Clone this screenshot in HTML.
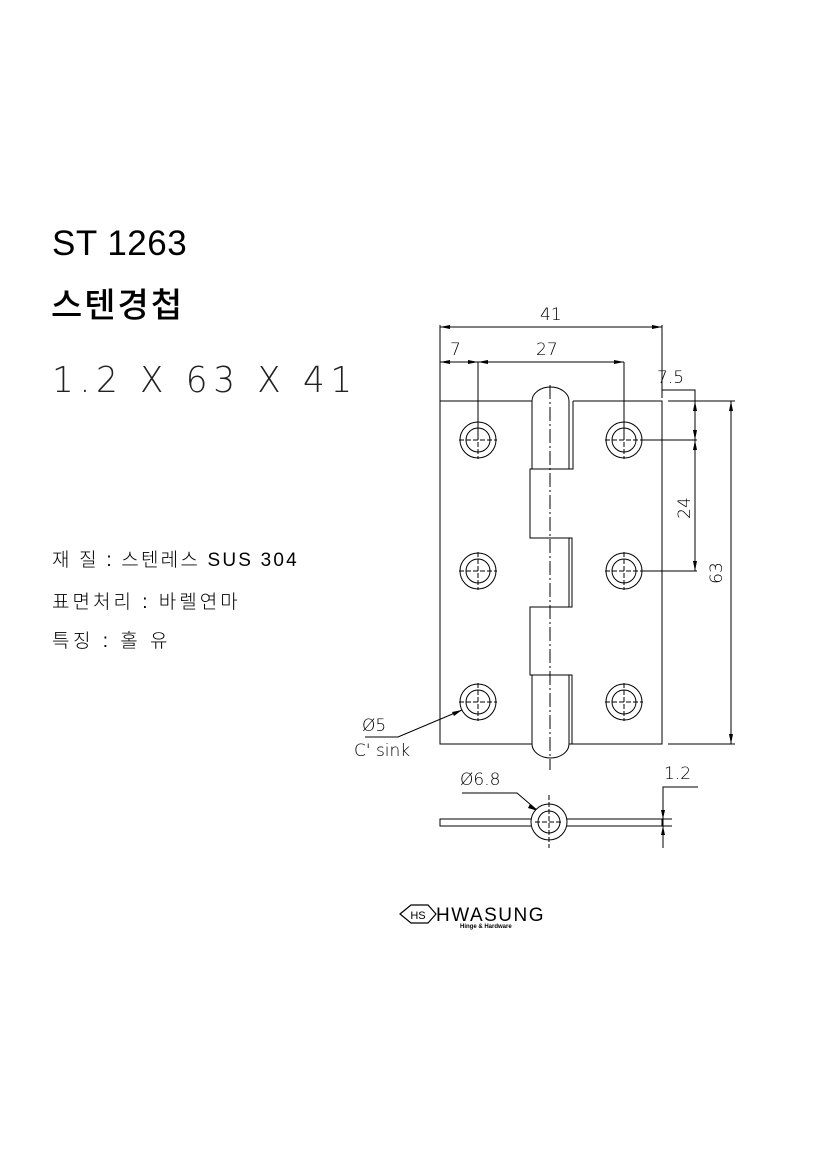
<!DOCTYPE html>
<html><head><meta charset="utf-8"><style>
body{margin:0;background:#fff;width:827px;height:1169px;overflow:hidden;position:relative;font-family:"Liberation Sans","Noto Sans CJK KR",sans-serif}
.t{position:absolute;color:#000;white-space:nowrap}
</style></head><body>
<div class="t" style="left:52px;top:224px;font-size:35px;letter-spacing:0.5px">ST 1263</div>
<div class="t" style="left:51px;top:278px;font-size:34px;font-weight:500;letter-spacing:2px">스텐경첩</div>
<div class="t" style="left:52px;top:360px;font-size:36px;font-weight:100;letter-spacing:6px;color:#222;font-family:'DejaVu Sans',sans-serif;transform:scaleX(0.95);transform-origin:left">1.2 X 63 X 41</div>
<div class="t" style="left:52px;top:545px;font-size:19px;letter-spacing:2.2px;font-weight:300">재 질 : 스텐레스 SUS 304</div>
<div class="t" style="left:52px;top:587px;font-size:19px;letter-spacing:3px;font-weight:300">표면처리 : 바렐연마</div>
<div class="t" style="left:52px;top:626px;font-size:19px;letter-spacing:3.5px;font-weight:300">특징 : 홀 유</div>
<svg width="827" height="1169" style="position:absolute;left:0;top:0" fill="none" stroke="#000" stroke-width="1">
<g font-family="DejaVu Sans,sans-serif" font-size="17" fill="#000" stroke="none" font-weight="300">
<text x="540" y="320">41</text><text x="450" y="355">7</text><text x="536" y="355">27</text>
<text x="657" y="383">7.5</text>
<text x="690" y="508" transform="rotate(-90 690 508)" text-anchor="middle">24</text>
<text x="722" y="573" transform="rotate(-90 722 573)" text-anchor="middle">63</text>
<text x="362" y="731">Ø5</text><text x="354" y="756">C' sink</text>
<text x="460" y="785">Ø6.8</text><text x="664" y="779">1.2</text>
</g>
<path d="M532 401H440V744H532M569 744H572M573 401H662V744H572"/>
<path d="M573 401V469H530V538H572V607H530V675H572V744"/>
<path d="M532 469V401 A18.5 14 0 0 1 569 401V469M532 675V744A18.5 14 0 0 0 569 744V675M569 538V607"/>
<path d="M550 385V770" stroke-dasharray="14 3 2 3"/>
<g>
<circle cx="478" cy="440" r="18"/><circle cx="478" cy="440" r="12"/>
<circle cx="624" cy="440" r="18"/><circle cx="624" cy="440" r="12"/>
<circle cx="478" cy="571" r="18"/><circle cx="478" cy="571" r="12"/>
<circle cx="624" cy="571" r="18"/><circle cx="624" cy="571" r="12"/>
<circle cx="478" cy="702" r="18"/><circle cx="478" cy="702" r="12"/>
<circle cx="624" cy="702" r="18"/><circle cx="624" cy="702" r="12"/>
<path d="M459 440h38M478 421v38M605 440h38M624 421v38M459 571h38M478 552v38M605 571h38M624 552v38M459 702h38M478 683v38M605 702h38M624 683v38" stroke-dasharray="5 2"/>
</g>
<path d="M440 325V401M662 325V398M440 327H662M440 362H624M478 362V440M624 362V440"/>
<path d="M662 390H695V571M643 440H697M643 571H697M668 401H735M668 744H735M731 401V744"/>
<g fill="#000" stroke="none">
<path d="M440 327l10-2v4zM662 327l-10-2v4zM440 362l10-2v4zM478 362l-10-2v4zM478 362l10-2v4zM624 362l-10-2v4z"/>
<path d="M695 401l-2 10h4zM695 440l-2-10h4zM695 440l-2 10h4zM695 571l-2-10h4zM731 401l-2 10h4zM731 744l-2-10h4z"/>
<path d="M462 710l-10 2 2 4z"/><path d="M538 811l-8-7-2 4z"/>
<path d="M663 819l-2-9h4zM663 826l-2 9h4z"/>
</g>
<path d="M365 737H398L462 710M462 793H517L538 811"/>
<rect x="440" y="819" width="222" height="7"/>
<circle cx="549" cy="822" r="18" fill="#fff"/><circle cx="549" cy="822" r="11"/>
<path d="M549 795V848M535 822H563" stroke-dasharray="5 2"/>
<path d="M663 848V787H698M658 819h14M658 826h14"/>
<path d="M400 914L411 905H428L436 914L428 923H411Z" stroke-width="1.2"/>
<text x="418" y="919" font-size="11" text-anchor="middle" fill="#000" stroke="none" font-family="Liberation Sans">HS</text>
<text x="436" y="921" font-size="19" fill="#000" stroke="none" font-family="Liberation Sans" letter-spacing="1.5">HWASUNG</text>
<text x="460" y="928" font-size="6" fill="#000" stroke="none" font-family="Liberation Sans" font-weight="bold">Hinge &amp; Hardware</text>
</svg>
</body></html>
